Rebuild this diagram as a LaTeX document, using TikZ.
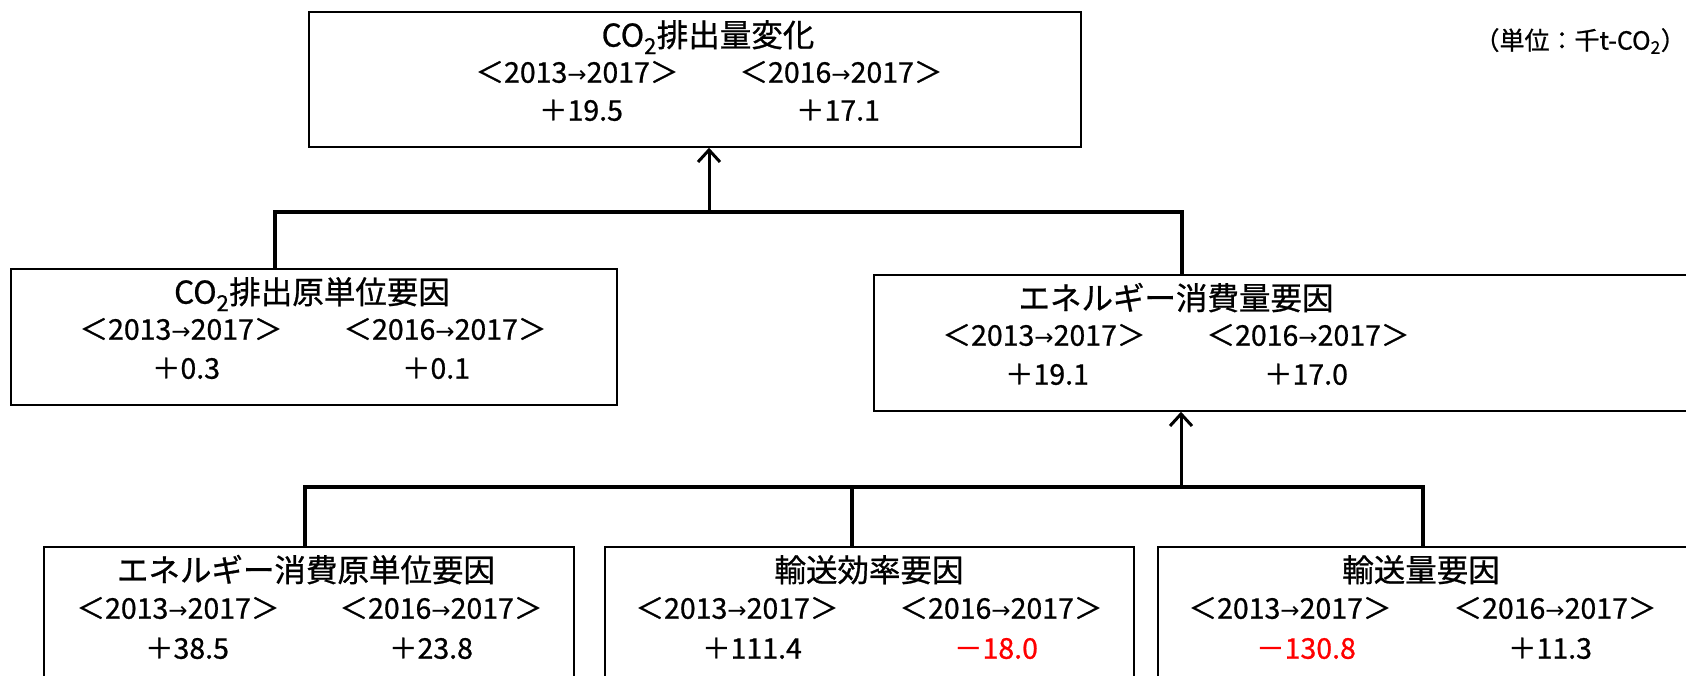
\documentclass[tikz,border=0pt]{standalone}
\usepackage{fontspec}
\newfontfamily\jp[FakeBold=0.8]{Noto Sans CJK JP}
\newfontfamily\djv{DejaVu Sans}
\usetikzlibrary{arrows.meta}
\definecolor{negred}{RGB}{255,0,0}
\newcommand{\harr}{{\djv\fontsize{23}{28}\selectfont →}}
\begin{document}
\begin{tikzpicture}[x=1pt,y=-1pt,
  box/.style={draw=black, line width=1.5pt, rectangle, inner sep=0pt},
  txt/.style={font=\jp\fontsize{28.5}{34}\selectfont, inner sep=0pt, anchor=center, text height=0.74em, text depth=0pt},
  ttl/.style={txt, font=\jp\fontsize{31.5}{36}\selectfont},
  conn/.style={line width=4pt},
  arr/.style={line width=3pt, -{Straight Barb[length=12pt,width=22pt]}},
  neg/.style={text=negred}]
\useasboundingbox (0,0) rectangle (1686,676);
\fill[white] (0,0) rectangle (1686,676);
\clip (0,0) rectangle (1686,676);

% boxes
\node[box, minimum width=772pt, minimum height=135pt] (topbox) at (695,79.5) {};
\node[box, minimum width=606pt, minimum height=136pt] (lbox) at (314,337) {};
\node[box, minimum width=846pt, minimum height=136pt] (ebox) at (1297,343) {};
\node[box, minimum width=530pt, minimum height=180pt] (b1) at (309,637) {};
\node[box, minimum width=529pt, minimum height=180pt] (b2) at (869.5,637) {};
\node[box, minimum width=562pt, minimum height=180pt] (b3) at (1439,637) {};

% connectors
\coordinate (j0) at (709,212);
\coordinate (j1) at (275,212);
\coordinate (j2) at (1182,212);
\draw[conn] (j1 |- lbox.north) -- (j1) -- (j2) -- (j2 |- ebox.north);
\draw[arr] (j0) -- (j0 |- topbox.south);

\coordinate (k0) at (1181,487);
\coordinate (k1) at (305,487);
\coordinate (k2) at (852,487);
\coordinate (k3) at (1423,487);
\draw[conn] (k1 |- b1.north) -- (k1) -- (k3) -- (k3 |- b3.north);
\draw[conn] (k2) -- (k2 |- b2.north);
\draw[arr] (k0) -- (k0 |- ebox.south);

% unit
\node[font=\jp\fontsize{25}{28}\selectfont, anchor=east, inner sep=0pt] (unit) at (1686,41) {（単位：千t-CO\textsubscript{2}）};

% top box texts
\node[ttl] (t-title) at (708,43) {CO\textsubscript{2}排出量変化};
\node[txt] (t-h1) at (577,79) {＜2013\harr 2017＞};
\node[txt] (t-h2) at (841,79) {＜2016\harr 2017＞};
\node[txt] (t-v1) at (581,117) {＋19.5};
\node[txt] (t-v2) at (838,117) {＋17.1};

% left box texts
\node[ttl] (l-title) at (312,300) {CO\textsubscript{2}排出原単位要因};
\node[txt] (l-h1) at (181,336) {＜2013\harr 2017＞};
\node[txt] (l-h2) at (445,336) {＜2016\harr 2017＞};
\node[txt] (l-v1) at (186,375) {＋0.3};
\node[txt] (l-v2) at (436,375) {＋0.1};

% energy box texts
\node[ttl] (e-title) at (1176,306) {エネルギー消費量要因};
\node[txt] (e-h1) at (1044,342) {＜2013\harr 2017＞};
\node[txt] (e-h2) at (1308,342) {＜2016\harr 2017＞};
\node[txt] (e-v1) at (1047,381) {＋19.1};
\node[txt] (e-v2) at (1306,381) {＋17.0};

% bottom box 1
\node[ttl] (b1-title) at (306,578) {エネルギー消費原単位要因};
\node[txt] (b1-h1) at (178,615) {＜2013\harr 2017＞};
\node[txt] (b1-h2) at (441,615) {＜2016\harr 2017＞};
\node[txt] (b1-v1) at (187,655) {＋38.5};
\node[txt] (b1-v2) at (431,655) {＋23.8};

% bottom box 2
\node[ttl] (b2-title) at (869,578) {輸送効率要因};
\node[txt] (b2-h1) at (737,615) {＜2013\harr 2017＞};
\node[txt] (b2-h2) at (1001,615) {＜2016\harr 2017＞};
\node[txt] (b2-v1) at (752,655) {＋111.4};
\node[txt, neg] (b2-v2) at (996,655) {－18.0};

% bottom box 3
\node[ttl] (b3-title) at (1421,578) {輸送量要因};
\node[txt] (b3-h1) at (1290,615) {＜2013\harr 2017＞};
\node[txt] (b3-h2) at (1555,615) {＜2016\harr 2017＞};
\node[txt, neg] (b3-v1) at (1306,655) {－130.8};
\node[txt] (b3-v2) at (1550,655) {＋11.3};
\end{tikzpicture}
\end{document}
